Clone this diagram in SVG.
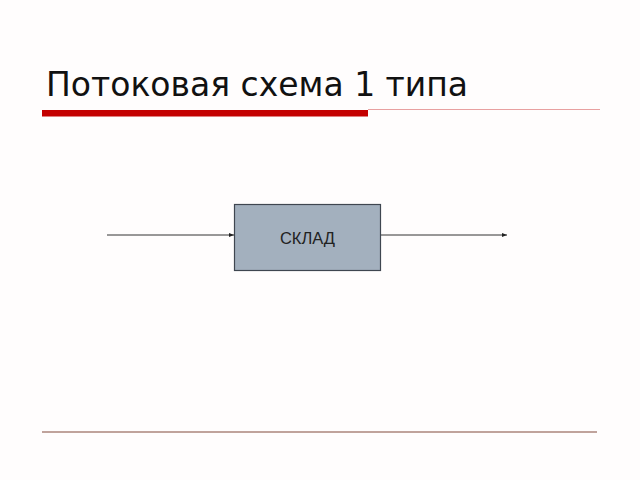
<svg xmlns="http://www.w3.org/2000/svg" width="640" height="480" viewBox="0 0 640 480">
<style>
.title{font-family:"DejaVu Sans",Verdana,sans-serif;font-size:33px;fill:#111}
.lbl{font-family:"Liberation Sans",Arial,sans-serif;font-size:16.5px;fill:#222}
.conn{stroke:#333;stroke-width:1;fill:none}
</style>
<defs>
<marker id="ah" markerWidth="6" markerHeight="6" refX="5" refY="3" orient="auto" markerUnits="userSpaceOnUse">
<path d="M0,1 L5,3 L0,5 Z" fill="#222"/>
</marker>
</defs>
<rect width="640" height="480" fill="#fffdfd"/>
<text class="title" x="46" y="96">Потоковая схема 1 типа</text>
<rect x="42" y="110" width="326" height="6.5" fill="#c40000"/>
<line x1="368" y1="109.5" x2="600" y2="109.5" stroke="#e8a0a0" stroke-width="1"/>
<line x1="42" y1="432" x2="597" y2="432" stroke="#c0a39c" stroke-width="2"/>
<g id="connectors">
<line class="conn" x1="107" y1="235" x2="234" y2="235" marker-end="url(#ah)"/>
<line class="conn" x1="381" y1="235" x2="507" y2="235" marker-end="url(#ah)"/>
</g>
<g id="sklad">
<rect x="234.5" y="204.5" width="146" height="66" fill="#a3b0be" stroke="#3f4650" stroke-width="1.2"/>
<text class="lbl" x="307.5" y="244" text-anchor="middle">СКЛАД</text>
</g>
</svg>
